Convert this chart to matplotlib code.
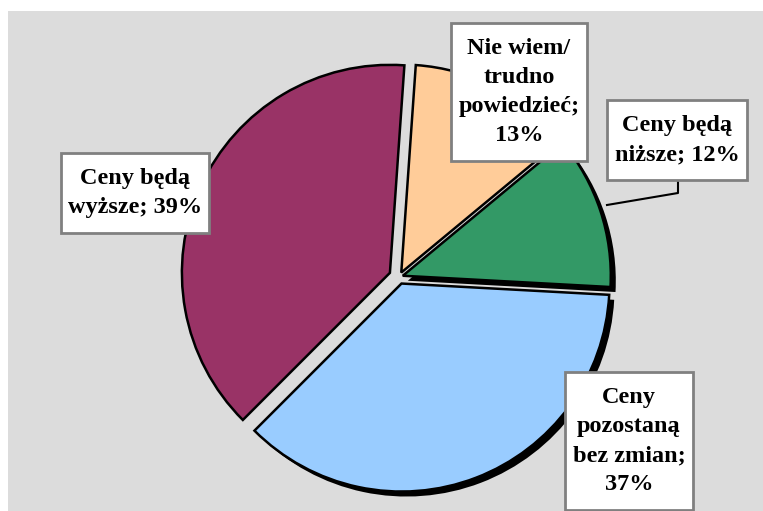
import matplotlib.pyplot as plt

# slices in clockwise order starting near 12 o'clock
labels = ['Nie wiem/\ntrudno\npowiedzieć;\n13%', 'Ceny będą\nniższe; 12%',
          'Ceny\npozostaną\nbez zmian;\n37%', 'Ceny będą\nwyższe; 39%']
values = [13, 12, 37, 39]
colors = ['#ffcc99', '#339966', '#99ccff', '#993366']
explode = [5, 4, 7, 10]  # matplotlib takes these in data units (pixels here)
# only the green and blue shadows show in the original
shadow_colors = ['none', 'black', 'black', 'none']

# label box centres, in pixels from the top-left of the picture
label_pos = [(519, 92), (677, 140), (629, 441), (135, 193)]

W, H = 763, 511
fig = plt.figure(figsize=(W / 100, H / 100), dpi=100)
fig.patch.set_facecolor('white')
ax = fig.add_axes([8 / W, 0, (W - 8) / W, (H - 11) / H])
ax.set_facecolor('#dcdcdc')

cx, cy, r = 399, H - 277, 208

# hard black shadow, then the pie itself
ax.pie(values, colors=shadow_colors, radius=r, center=(cx + 5, cy - 5),
       startangle=86, counterclock=False, explode=explode, frame=True,
       wedgeprops=dict(linewidth=0))
ax.pie(values, colors=colors, radius=r, center=(cx, cy),
       startangle=86, counterclock=False, explode=explode, frame=True,
       wedgeprops=dict(edgecolor='black', linewidth=1.8))

ax.set_xlim(8, W)
ax.set_ylim(0, H - 11)
ax.set_aspect('equal')
ax.set_xticks([])
ax.set_yticks([])
for s in ax.spines.values():
    s.set_visible(False)

# leader line for the "niższe" label
ax.plot([678, 678, 607], [H - 181, H - 193, H - 205], color='black', lw=1.5)

for txt, (x, y) in zip(labels, label_pos):
    ax.text(x, H - y, txt, ha='center', va='center', fontsize=17.5,
            fontweight='bold', family='Liberation Serif', linespacing=1.52,
            bbox=dict(boxstyle='square,pad=0.3', mutation_aspect=2,
                      facecolor='white', edgecolor='#808080', linewidth=2))

fig.savefig('out.png', dpi=100)
